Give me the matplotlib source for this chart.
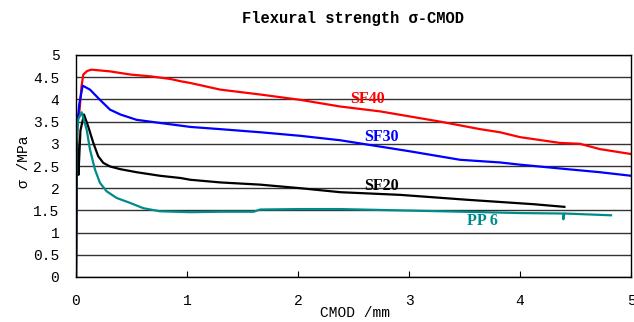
import matplotlib.pyplot as plt

# CMOD (mm) and flexural stress (MPa)
sf40_x = [0, 0.005, 0.012, 0.03, 0.05, 0.066, 0.1, 0.14, 0.31, 0.49, 0.67, 0.85, 0.94,
          1.03, 1.30, 1.66, 2.02, 2.38, 2.74, 3.28, 3.64, 3.82, 4.0, 4.36, 4.54, 4.72, 5.0]
sf40_y = [0, 1.2, 3.54, 3.7, 4.3, 4.56, 4.64, 4.67, 4.63, 4.56, 4.52, 4.46, 4.41,
          4.37, 4.22, 4.11, 3.99, 3.84, 3.73, 3.50, 3.33, 3.26, 3.15, 3.02, 3.0, 2.88, 2.77]

sf30_x = [0, 0.003, 0.01, 0.03, 0.06, 0.126, 0.216, 0.306, 0.4, 0.546, 0.756, 0.94,
          1.03, 1.30, 1.66, 2.02, 2.38, 3.01, 3.46, 3.82, 4.0, 4.42, 4.72, 5.0]
sf30_y = [0, 3.0, 3.4, 3.9, 4.31, 4.22, 3.99, 3.77, 3.66, 3.54, 3.47, 3.41,
          3.38, 3.33, 3.26, 3.18, 3.08, 2.83, 2.64, 2.58, 2.53, 2.43, 2.36, 2.28]

sf20_x = [0, 0.008, 0.015, 0.022, 0.04, 0.072, 0.11, 0.156, 0.2, 0.246, 0.306, 0.396,
          0.546, 0.756, 0.94, 1.03, 1.30, 1.66, 2.02, 2.38, 2.92, 3.52, 4.12, 4.40]
sf20_y = [0, 3.4, 2.6, 2.3, 3.3, 3.66, 3.39, 3.02, 2.72, 2.57, 2.49, 2.43,
          2.36, 2.28, 2.23, 2.19, 2.13, 2.08, 2.00, 1.91, 1.85, 1.74, 1.64, 1.58]

pp6_x = [0, 0.004, 0.02, 0.051, 0.096, 0.126, 0.171, 0.216, 0.276, 0.366, 0.486, 0.606,
         0.756, 1.03, 1.30, 1.60, 1.66, 2.02, 2.38, 2.92, 3.67, 4.0, 4.39, 4.39, 4.40, 4.82]
pp6_y = [0, 3.0, 3.55, 3.71, 3.32, 2.87, 2.42, 2.12, 1.93, 1.78, 1.67, 1.55,
         1.48, 1.46, 1.47, 1.47, 1.52, 1.53, 1.53, 1.50, 1.46, 1.44, 1.43, 1.30, 1.43, 1.39]

series = [
    ('SF40', sf40_x, sf40_y, '#ff0000', (2.63, 4.01)),
    ('SF30', sf30_x, sf30_y, '#0000ff', (2.75, 3.15)),
    ('SF20', sf20_x, sf20_y, '#000000', (2.75, 2.06)),
    ('PP 6', pp6_x, pp6_y, '#008b8b', (3.66, 1.26)),
]

mono = ['Liberation Mono', 'DejaVu Sans Mono']

fig = plt.figure(figsize=(6.34, 3.22), dpi=100)
ax = fig.add_axes([76 / 634, 45 / 322, 555 / 634, 222 / 322])

for name, xs, ys, color, pos in series:
    ax.plot(xs, ys, color=color, lw=1.6)
    ax.text(pos[0], pos[1], name, color=color, fontsize=11.5, weight='bold',
            family='Liberation Serif', ha='center', va='center')

ax.set_xlim(0, 5)
ax.set_ylim(0, 5)
ax.set_xticks([0, 1, 2, 3, 4, 5])
ax.set_yticks([i * 0.5 for i in range(11)])
ax.set_xticklabels(['0', '1', '2', '3', '4', '5'])
ax.set_yticklabels(['0', '0.5', '1', '1.5', '2', '2.5', '3', '3.5', '4', '4.5', '5'])
ax.tick_params(axis='x', direction='in', length=4, pad=12, labelsize=10.5)
ax.tick_params(axis='y', length=0, pad=12, labelsize=10.5)
for lab in ax.get_xticklabels() + ax.get_yticklabels():
    lab.set_family(mono)
ax.yaxis.grid(True, color='#333333', lw=1)
ax.set_axisbelow(True)
for sp in ax.spines.values():
    sp.set_color('black')
    sp.set_linewidth(1)

fig.text(353 / 634, 1 - 18 / 322, 'Flexural strength σ-CMOD', family=mono,
         weight='bold', fontsize=11.2, ha='center', va='center')
fig.text(24 / 634, 1 - 162 / 322, 'σ /MPa', family=mono, fontsize=10.5,
         rotation=90, ha='center', va='center')
fig.text(355 / 634, 1 - 313 / 322, 'CMOD /mm', family=mono, fontsize=10.5,
         ha='center', va='center')

fig.savefig('out.png', dpi=100)
